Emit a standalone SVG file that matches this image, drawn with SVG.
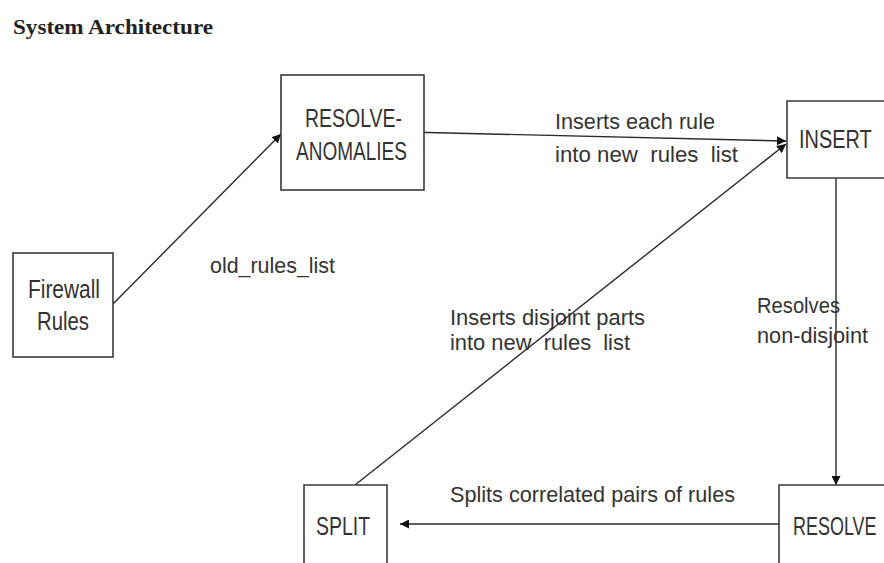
<svg xmlns="http://www.w3.org/2000/svg" width="884" height="563" viewBox="0 0 884 563">
<style>
.box{fill:#fff;stroke:#3a3a3a;stroke-width:1.6}
.bt{font-family:"Liberation Sans",Arial,sans-serif;font-size:26px;fill:#333}
.lt{font-family:"Liberation Sans",Arial,sans-serif;font-size:22px;fill:#333}
.c{stroke:#2a2a2a;stroke-width:1.4;fill:none;marker-end:url(#ah)}
</style>
<defs>
<marker id="ah" viewBox="0 0 10 10" refX="10" refY="5" markerWidth="9" markerHeight="9" markerUnits="userSpaceOnUse" orient="auto">
<path d="M0,0 L10,5 L0,10 z" fill="#111"/>
</marker>
</defs>
<rect width="884" height="563" fill="#fff"/>
<text x="13" y="34" font-family="'Liberation Serif','DejaVu Serif',serif" font-weight="bold" font-size="21" fill="#222" textLength="200" lengthAdjust="spacingAndGlyphs">System Architecture</text>
<g id="connectors">
<line class="c" x1="112" y1="305" x2="281" y2="134"/>
<line class="c" x1="407" y1="132" x2="786" y2="141"/>
<line class="c" x1="355" y1="485" x2="786" y2="144"/>
<line class="c" x1="836" y1="178" x2="836" y2="485"/>
<line class="c" x1="779" y1="524" x2="400" y2="524"/>
<text class="lt" x="210" y="273" textLength="125" lengthAdjust="spacingAndGlyphs">old_rules_list</text>
<text class="lt" x="555" y="129" textLength="160" lengthAdjust="spacingAndGlyphs">Inserts each rule</text>
<text class="lt" x="555" y="162" textLength="183" lengthAdjust="spacingAndGlyphs" xml:space="preserve">into new  rules  list</text>
<text class="lt" x="450" y="325" textLength="195" lengthAdjust="spacingAndGlyphs">Inserts disjoint parts</text>
<text class="lt" x="450" y="350" textLength="180" lengthAdjust="spacingAndGlyphs" xml:space="preserve">into new  rules  list</text>
<text class="lt" x="757" y="313" textLength="83" lengthAdjust="spacingAndGlyphs">Resolves</text>
<text class="lt" x="757" y="343" textLength="111" lengthAdjust="spacingAndGlyphs">non-disjoint</text>
<text class="lt" x="450" y="502" textLength="285" lengthAdjust="spacingAndGlyphs">Splits correlated pairs of rules</text>
</g>
<g id="firewall">
<rect class="box" x="13" y="253" width="100" height="104"/>
<text class="bt" x="28" y="298" textLength="72" lengthAdjust="spacingAndGlyphs">Firewall</text>
<text class="bt" x="37" y="330" textLength="52" lengthAdjust="spacingAndGlyphs">Rules</text>
</g>
<g id="resolve-anomalies">
<rect class="box" x="281" y="75" width="143" height="115"/>
<text class="bt" x="305" y="127" textLength="97" lengthAdjust="spacingAndGlyphs">RESOLVE-</text>
<text class="bt" x="296" y="160" textLength="111" lengthAdjust="spacingAndGlyphs">ANOMALIES</text>
</g>
<g id="insert">
<path class="box" d="M884,101 H787 V178 H884"/>
<text class="bt" transform="translate(799,148) scale(0.766,1)">INSERT</text>
</g>
<g id="resolve">
<path class="box" d="M884,485 H779 V563"/>
<text class="bt" transform="translate(793,535) scale(0.692,1)">RESOLVE</text>
</g>
<g id="split">
<path class="box" d="M304,563 V485 H387 V563"/>
<text class="bt" x="316" y="535" textLength="54" lengthAdjust="spacingAndGlyphs">SPLIT</text>
</g>
</svg>
